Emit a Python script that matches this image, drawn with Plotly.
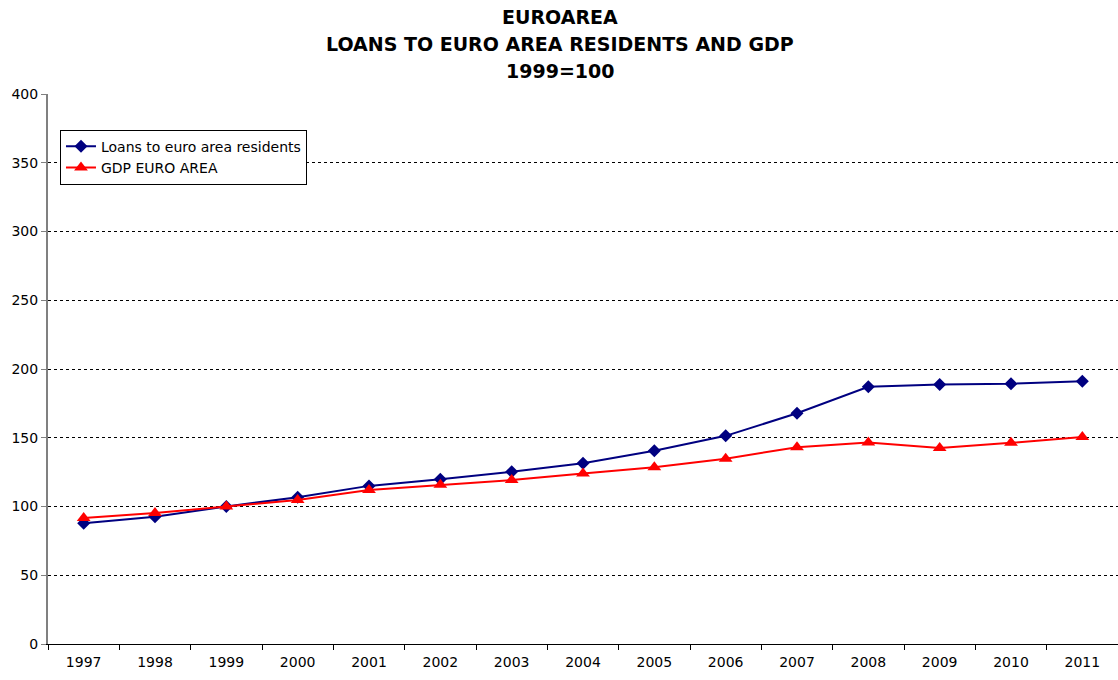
import plotly.graph_objects as go

years = ["1997", "1998", "1999", "2000", "2001", "2002", "2003", "2004",
         "2005", "2006", "2007", "2008", "2009", "2010", "2011"]
loans = [87.8, 92.6, 100, 106.8, 115, 119.8, 125.3, 131.4,
         140.6, 151.4, 167.8, 187.1, 188.7, 189.3, 191.1]
gdp = [91.6, 95.2, 100, 104.8, 112, 115.8, 119.2, 124.0,
       128.5, 134.8, 143.1, 146.6, 142.6, 146.3, 150.5]
y_ticks = [0, 50, 100, 150, 200, 250, 300, 350, 400]
title_lines = ["EUROAREA", "LOANS TO EURO AREA RESIDENTS AND GDP", "1999=100"]

FONT = "DejaVu Sans"

fig = go.Figure()
fig.add_trace(go.Scatter(
    x=years, y=loans, name="Loans to euro area residents", mode="lines+markers",
    line=dict(color="#000080", width=2),
    marker=dict(symbol="diamond", size=10, color="#000080"),
))
fig.add_trace(go.Scatter(
    x=years, y=gdp, name="GDP EURO AREA", mode="lines+markers",
    line=dict(color="#FF0000", width=2),
    marker=dict(symbol="triangle-up", size=12, color="#FF0000"),
))

# title lines as separate annotations (pixel centres at y = 17, 44, 71)
for i, line in enumerate(title_lines):
    fig.add_annotation(
        text="<b>%s</b>" % line, xref="paper", yref="paper",
        x=(560 - 48) / 1070, y=(644 - (17 + 27 * i)) / 550,
        xanchor="center", yanchor="middle", showarrow=False,
        font=dict(family=FONT, size=19, color="black"),
    )

fig.update_layout(
    width=1118, height=680,
    margin=dict(l=48, r=0, t=94, b=36),
    paper_bgcolor="white", plot_bgcolor="white",
    font=dict(family=FONT, size=14, color="black"),
    showlegend=True,
    legend=dict(
        x=0.0112, y=0.935, xanchor="left", yanchor="top",
        bgcolor="white", bordercolor="black", borderwidth=1,
        font=dict(family=FONT, size=14, color="black"),
        tracegroupgap=0, itemwidth=30,
    ),
)
fig.update_xaxes(
    type="category", range=[-0.5, 14.5],
    tickson="boundaries", ticks="outside", ticklen=5, tickcolor="black",
    showline=True, linecolor="black", linewidth=1,
    showgrid=False, zeroline=False, ticklabelstandoff=5,
    tickfont=dict(family=FONT, size=14, color="black"),
)
fig.update_yaxes(
    range=[0, 400], tickvals=y_ticks,
    ticks="outside", ticklen=5, tickcolor="#808080",
    showline=True, linecolor="#808080", linewidth=2,
    showgrid=True, gridcolor="black", gridwidth=1, griddash="3px,3px",
    zeroline=False,
    tickfont=dict(family=FONT, size=14, color="black"),
)

fig.write_html("out.html")
